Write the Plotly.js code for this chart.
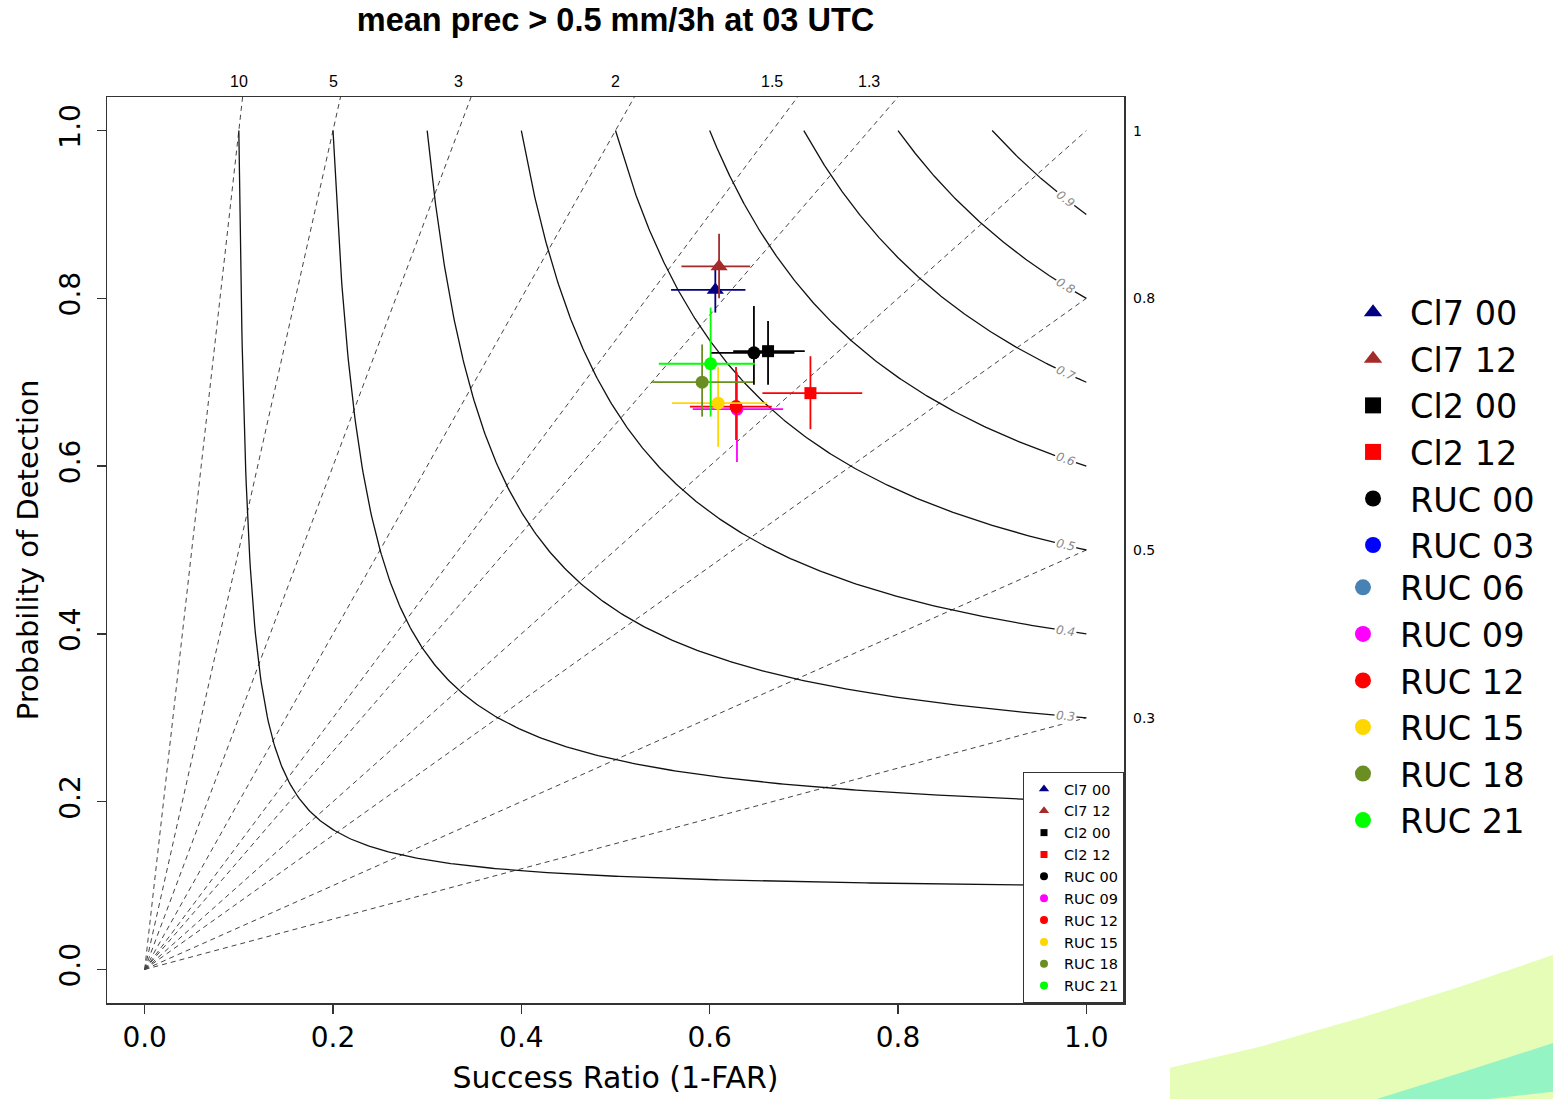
<!DOCTYPE html>
<html><head><meta charset="utf-8">
<script src="https://cdn.plot.ly/plotly-3.0.1.min.js"></script>
<style>html,body{margin:0;padding:0;background:#fff}#chart{width:1553px;height:1099px}</style>
</head><body><div id="chart"></div>
<script>
// ---- data ----
const seriesNames   = ['Cl7 00','Cl7 12','Cl2 00','Cl2 12','RUC 00','RUC 03','RUC 06','RUC 09','RUC 12','RUC 15','RUC 18','RUC 21'];
const seriesColors  = ['#000080','#a52a2a','#000000','#ff0000','#000000','#0000ff','#4682b4','#ff00ff','#ff0000','#ffd700','#6b8e23','#00ff00'];
const seriesSymbols = ['triangle-up','triangle-up','square','square','circle','circle','circle','circle','circle','circle','circle','circle'];
const successRatio  = [0.606, 0.610, 0.662, 0.707, 0.647, null, null, 0.629, 0.628, 0.609, 0.592, 0.601];
const srLow         = [0.559, 0.570, 0.625, 0.656, 0.601, null, null, 0.582, 0.579, 0.560, 0.539, 0.546];
const srHigh        = [0.638, 0.643, 0.701, 0.762, 0.690, null, null, 0.678, 0.666, 0.661, 0.646, 0.648];
const pod           = [0.810, 0.838, 0.737, 0.687, 0.735, null, null, 0.668, 0.671, 0.675, 0.700, 0.722];
const podLow        = [0.783, 0.800, 0.697, 0.644, 0.697, null, null, 0.605, 0.631, 0.623, 0.659, 0.659];
const podHigh       = [0.840, 0.877, 0.773, 0.731, 0.791, null, null, 0.712, 0.718, 0.718, 0.745, 0.789];
const axisTicks     = [0, 0.2, 0.4, 0.6, 0.8, 1.0];
const biasLevels    = [0.3, 0.5, 0.8, 1, 1.3, 1.5, 2, 3, 5, 10];
const csiLevels     = [0.1, 0.2, 0.3, 0.4, 0.5, 0.6, 0.7, 0.8, 0.9];
const csiLabelled   = [0.3, 0.4, 0.5, 0.6, 0.7, 0.8, 0.9];
const titleText = 'mean prec > 0.5 mm/3h at 03 UTC';

// ---- helpers ----
const AXMAX = 1.04;
function podOnCsi(csi, sr){ return 1/(1/csi - 1/sr + 1); }

const traces = [];

// bias (frequency) dashed lines
const bx = [], by = [];
biasLevels.forEach(b => {
  if (b <= 1){ bx.push(0, 1, null); by.push(0, b, null); }
  else { bx.push(0, AXMAX/b, null); by.push(0, AXMAX, null); }
});
traces.push({x:bx, y:by, mode:'lines', line:{color:'#444', width:1, dash:'5px,4px'},
  showlegend:false, hoverinfo:'skip'});

// CSI solid curves
const cx = [], cy = [];
csiLevels.forEach(c => {
  const n = 300;
  for (let i=0;i<=n;i++){
    const t = i/n;
    const sr = c + (1-c)*t*t;
    cx.push(sr); cy.push(podOnCsi(c, sr));
  }
  cx.push(null); cy.push(null);
});
traces.push({x:cx, y:cy, mode:'lines', line:{color:'#111', width:1.3},
  showlegend:false, hoverinfo:'skip'});

// data points with error bars
const markerSize = {'triangle-up':15, 'square':12, 'circle':13};
seriesNames.forEach((name, i) => {
  if (successRatio[i] === null) return;
  traces.push({
    x:[successRatio[i]], y:[pod[i]], mode:'markers', name:name, showlegend:false,
    marker:{symbol:seriesSymbols[i], color:seriesColors[i], size:markerSize[seriesSymbols[i]]},
    error_x:{type:'data', symmetric:false, array:[srHigh[i]-successRatio[i]], arrayminus:[successRatio[i]-srLow[i]],
      color:seriesColors[i], thickness:1.8, width:0},
    error_y:{type:'data', symmetric:false, array:[podHigh[i]-pod[i]], arrayminus:[pod[i]-podLow[i]],
      color:seriesColors[i], thickness:1.8, width:0}
  });
});

// inner legend entries (series with data)
const smallSize = {'triangle-up':9, 'square':7, 'circle':8};
seriesNames.forEach((name, i) => {
  if (successRatio[i] === null) return;
  traces.push({x:[null], y:[null], mode:'markers', name:name, legend:'legend',
    marker:{symbol:seriesSymbols[i], color:seriesColors[i], size:smallSize[seriesSymbols[i]]}, hoverinfo:'skip'});
});
// outer legend entries (all series)
seriesNames.forEach((name, i) => {
  traces.push({x:[null], y:[null], mode:'markers', name:name, legend: i < 6 ? 'legend2' : 'legend3',
    marker:{symbol:seriesSymbols[i], color:seriesColors[i], size:16}, hoverinfo:'skip'});
});

// annotations
const annotations = [];
biasLevels.forEach(b => {
  if (b > 1){
    annotations.push({xref:'x', yref:'paper', x:1/b, y:1.0166, text:String(b), showarrow:false,
      font:{family:'Liberation Sans, Arial', size:16, color:'#000'}, xanchor:'center', yanchor:'middle'});
  } else {
    annotations.push({xref:'paper', yref:'y', x:1.0069, y:b, text:String(b), showarrow:false,
      font:{family:'DejaVu Sans', size:14, color:'#000'}, xanchor:'left', yanchor:'middle'});
  }
});
const pxPerX = 940, pxPerY = 838;
csiLabelled.forEach(c => {
  const sr = 0.978, p = podOnCsi(c, sr);
  const ang = Math.atan((pxPerY/pxPerX)*(p/sr)*(p/sr))*180/Math.PI;
  annotations.push({xref:'x', yref:'y', x:sr, y:p, text:String(c), showarrow:false, textangle:ang,
    font:{family:'DejaVu Sans', size:12, color:'#888', style:'italic'}, bgcolor:'#fff', borderpad:1,
    xanchor:'center', yanchor:'middle'});
});

// decorative corner shapes (slide background)
const shapes = [
  {type:'path', xref:'paper', yref:'paper', layer:'above', line:{width:0}, fillcolor:'#e6fdb8',
   path:'M 1.0452 -0.106 L 1.0452 -0.0714 L 1.1337 -0.0482 L 1.2321 -0.0166 L 1.3304 0.0180 L 1.4218 0.0530 L 1.4218 -0.106 Z'},
  {type:'path', xref:'paper', yref:'paper', layer:'above', line:{width:0}, fillcolor:'#94f4c4',
   path:'M 1.2485 -0.106 L 1.3304 -0.0773 L 1.4218 -0.0442 L 1.4218 -0.106 Z'},
  {type:'path', xref:'paper', yref:'paper', layer:'above', line:{width:0}, fillcolor:'#e6fdb8',
   path:'M 1.3589 -0.106 L 1.4218 -0.0979 L 1.4218 -0.106 Z'}
];

const axisCommon = {
  range:[-0.04, 1.04], tickvals:axisTicks, tickformat:'.1f', ticks:'outside', ticklen:9, tickwidth:1.3,
  tickcolor:'#333', showline:true, mirror:true, linecolor:'#333', linewidth:1.5,
  showgrid:false, zeroline:false, automargin:false,
  tickfont:{family:'DejaVu Sans', size:28, color:'#000'}
};

const layout = {
  width:1553, height:1099,
  margin:{l:107, r:429, t:97, b:96},
  paper_bgcolor:'#fff', plot_bgcolor:'#fff',
  title:{text:titleText, font:{family:'Liberation Sans, Arial', size:32.5, weight:'bold', color:'#000'},
    xref:'paper', x:0.5, xanchor:'center', yref:'container', y:0.982, yanchor:'middle'},
  xaxis:Object.assign({}, axisCommon, {title:{text:'Success Ratio (1-FAR)', font:{family:'DejaVu Sans', size:30, color:'#000'}, standoff:14}}),
  yaxis:Object.assign({}, axisCommon, {tickangle:-90, ticklabelstandoff:5,
    title:{text:'Probability of Detection', font:{family:'DejaVu Sans', size:29, color:'#000'}, standoff:7}}),
  showlegend:true,
  legend:{x:1, xanchor:'right', y:0, yanchor:'bottom', bgcolor:'#fff', bordercolor:'#333', borderwidth:1,
    font:{family:'DejaVu Sans', size:14.5, color:'#000'}, itemwidth:30, tracegroupgap:0},
  legend2:{x:1.2085, xanchor:'left', y:0.7936, yanchor:'top', bgcolor:'rgba(0,0,0,0)', borderwidth:0,
    font:{family:'DejaVu Sans', size:33.5, color:'#000'}, itemwidth:64},
  legend3:{x:1.1986, xanchor:'left', y:0.490, yanchor:'top', bgcolor:'rgba(0,0,0,0)', borderwidth:0,
    font:{family:'DejaVu Sans', size:33.5, color:'#000'}, itemwidth:64},
  annotations:annotations,
  shapes:shapes
};

Plotly.newPlot('chart', traces, layout, {displayModeBar:false, staticPlot:true});
</script>
</body></html>
